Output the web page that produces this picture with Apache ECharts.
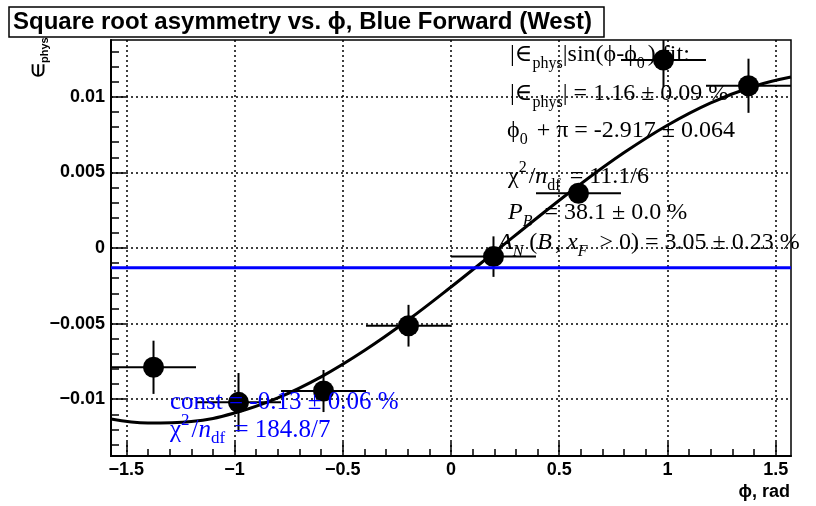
<!DOCTYPE html>
<html><head><meta charset="utf-8">
<script src="https://cdn.jsdelivr.net/npm/echarts@6/dist/echarts.min.js"></script>
<style>html,body{margin:0;padding:0;background:#fff}#c{width:816px;height:506px}</style>
</head><body><div id="c"></div><script>
// ---- data ----
const phiBins = [-1.3744, -0.9817, -0.5890, -0.1963, 0.1963, 0.5890, 0.9817, 1.3744];
const phiHalfWidth = [0.1963, 0.1963, 0.1963, 0.1963, 0.1963, 0.1963, 0.1963, 0.1963];
const asym = [-0.00789, -0.01021, -0.00946, -0.00514, -0.00057, 0.00362, 0.01243, 0.01073];
const asymErr = [0.00176, 0.00194, 0.00139, 0.00138, 0.00134, 0.0005, 0.00179, 0.00179];
// fit curve
const fitPhi = [-1.5708, -1.4, -1.2, -1.0, -0.8, -0.6, -0.4, -0.2, 0, 0.2, 0.4, 0.6, 0.8, 1.0, 1.2, 1.4, 1.5708];
const fitVal = [-0.01131, -0.01158, -0.01148, -0.01091, -0.00991, -0.00852, -0.00678, -0.00478, -0.00258, -0.00029, 0.00202, 0.00425, 0.00631, 0.00812, 0.00960, 0.01070, 0.01131];
// constant fit
const constPhi = [-1.5708, 1.5708];
const constVal = [-0.0013, -0.0013];
// axes
const xMin = -1.5708, xMax = 1.5708;
const yMin = -0.013757, yMax = 0.013757;
const xMajorTicks = [-1.5, -1, -0.5, 0, 0.5, 1, 1.5];
const xMinorTicks = [-1.4, -1.3, -1.2, -1.1, -0.9, -0.8, -0.7, -0.6, -0.4, -0.3, -0.2, -0.1, 0.1, 0.2, 0.3, 0.4, 0.6, 0.7, 0.8, 0.9, 1.1, 1.2, 1.3, 1.4];
const yMajorTicks = [-0.01, -0.005, 0, 0.005, 0.01];
const yMinorTicks = [-0.013, -0.012, -0.011, -0.009, -0.008, -0.007, -0.006, -0.004, -0.003, -0.002, -0.001, 0.001, 0.002, 0.003, 0.004, 0.006, 0.007, 0.008, 0.009, 0.011, 0.012, 0.013];
// texts
const titleText = 'Square root asymmetry vs. \u03D5, Blue Forward (West)';
const xTitle = '\u03D5, rad';

const chart = echarts.init(document.getElementById('c'), null, {renderer: 'canvas'});
const fmt = v => (v < 0 ? '\u2212' + String(Math.abs(v)) : String(v));
const sans = "'Liberation Sans', Arial, sans-serif";
const serif = "'Liberation Serif', 'DejaVu Serif', serif";

const points = phiBins.map((p, i) => [p, asym[i], phiHalfWidth[i], asymErr[i]]);
const fitData = fitPhi.map((p, i) => [p, fitVal[i]]);
const constData = constPhi.map((p, i) => [p, constVal[i]]);

const richSerif = (color, fs) => {
  const ss = Math.round(fs * 0.67), lh = fs + 10;
  return {
    sub: {fontSize: ss, lineHeight: ss, verticalAlign: 'bottom', fontFamily: serif, fill: color, padding: [0, 3, 0, 0]},
    subn: {fontSize: ss, lineHeight: ss, verticalAlign: 'bottom', fontFamily: serif, fill: color},
    sup: {fontSize: ss, lineHeight: ss, verticalAlign: 'top', fontFamily: serif, fill: color, padding: [0, 2, 0, 0]},
    it: {fontSize: fs, lineHeight: lh, fontStyle: 'italic', fontFamily: serif, fill: color},
    itp: {fontSize: fs, lineHeight: lh, fontStyle: 'italic', fontFamily: serif, fill: color, padding: [0, 3, 0, 0]},
    subit: {fontSize: ss, lineHeight: ss, verticalAlign: 'bottom', fontStyle: 'italic', fontFamily: serif, fill: color, padding: [0, 6, 0, 0]}
  };
};
function serifText(x, y, text, color, fs) {
  return {type: 'text', x: x, y: y, z: 100,
    style: {text: text, fill: color, fontFamily: serif, fontSize: fs, lineHeight: fs + 10,
      verticalAlign: 'middle', align: 'left', rich: richSerif(color, fs)}};
}

const statLines = [
  [510, 55, '|\u2208{subn|phys}|sin(\u03D5-\u03D5{sub|0}) fit:'],
  [510, 94, '|\u2208{subn|phys}| = 1.16 \u00B1 0.09 %'],
  [507, 131, '\u03D5{sub|0} + \u03C0 = -2.917 \u00B1 0.064'],
  [508, 177, '\u03C7{sup|2}/{it|n}{sub|df} = 11.1/6'],
  [508, 213, '{it|P}{subit|B} = 38.1 \u00B1 0.0 %'],
  [498, 243, '{it|A}{subit|N}({itp|B}, {it|x}{subit|F} > 0) = 3.05 \u00B1 0.23 %']
];
const blueLines = [
  [170, 402, 'const = -0.13 \u00B1 0.06 %'],
  [170, 430, '\u03C7{sup|2}/{it|n}{sub|df} = 184.8/7']
];

const graphics = [
  {type: 'rect', shape: {x: 9, y: 7, width: 595, height: 30}, z: 90,
    style: {fill: '#fff', stroke: '#000', lineWidth: 1.5}},
  {type: 'text', x: 13, y: 22, z: 91,
    style: {text: titleText, fontFamily: sans, fontWeight: 'bold', fontSize: 24, fill: '#000', verticalAlign: 'middle', align: 'left'}},
  {type: 'text', x: 39, y: 78, rotation: Math.PI / 2, z: 91,
    style: {text: '\u2208{s|phys}', fontFamily: sans, fontWeight: 'bold', fontSize: 17, lineHeight: 22, fill: '#000', verticalAlign: 'middle', align: 'left',
      rich: {s: {fontFamily: sans, fontWeight: 'bold', fontSize: 11, lineHeight: 11, verticalAlign: 'bottom', fill: '#000'}}}},
  {type: 'text', x: 790, y: 492, z: 91,
    style: {text: xTitle, fontFamily: sans, fontWeight: 'bold', fontSize: 18, fill: '#000', verticalAlign: 'middle', align: 'right'}}
];
statLines.forEach(l => graphics.push(serifText(l[0], l[1], l[2], '#000', 24)));
blueLines.forEach(l => graphics.push(serifText(l[0], l[1], l[2], '#0000ff', 25)));

const labelStyle = {fontFamily: sans, fontWeight: 'bold', fontSize: 18, color: '#000'};

const option = {
  animation: false,
  backgroundColor: '#fff',
  grid: {left: 111, right: 25, top: 40, bottom: 50, containLabel: false, outerBoundsMode: 'none',
    show: true, borderColor: '#000', borderWidth: 1.5, backgroundColor: 'transparent'},
  xAxis: [
    {type: 'value', min: xMin, max: xMax, position: 'bottom',
      axisLine: {show: true, onZero: false, lineStyle: {color: '#000', width: 2}},
      axisTick: {show: true, inside: true, length: 14, lineStyle: {color: '#000', width: 1.5}, customValues: xMajorTicks},
      axisLabel: Object.assign({margin: 5, formatter: fmt, customValues: xMajorTicks}, labelStyle),
      splitLine: {show: true, lineStyle: {color: '#000', width: 1.5, type: [2, 3]}},
      minorTick: {show: false}},
    {type: 'value', min: xMin, max: xMax, position: 'bottom',
      axisLine: {show: false, onZero: false},
      axisTick: {show: true, inside: true, length: 7, lineStyle: {color: '#000', width: 1.5}, customValues: xMinorTicks},
      axisLabel: {show: false},
      splitLine: {show: false}}
  ],
  yAxis: [
    {type: 'value', min: yMin, max: yMax, position: 'left',
      axisLine: {show: true, onZero: false, lineStyle: {color: '#000', width: 2}},
      axisTick: {show: true, inside: true, length: 15, lineStyle: {color: '#000', width: 1.5}, customValues: yMajorTicks},
      axisLabel: Object.assign({margin: 6, formatter: fmt, customValues: yMajorTicks}, labelStyle),
      splitLine: {show: true, lineStyle: {color: '#000', width: 1.5, type: [2, 3]}}},
    {type: 'value', min: yMin, max: yMax, position: 'left',
      axisLine: {show: false, onZero: false},
      axisTick: {show: true, inside: true, length: 8, lineStyle: {color: '#000', width: 1.5}, customValues: yMinorTicks},
      axisLabel: {show: false},
      splitLine: {show: false}}
  ],
  graphic: graphics,
  series: [
    {type: 'custom', xAxisIndex: 0, yAxisIndex: 0, data: points, encode: {x: 0, y: 1}, z: 3,
      renderItem: function (params, api) {
        const x = api.value(0), y = api.value(1), ex = api.value(2), ey = api.value(3);
        const cs = params.coordSys;
        const clampX = v => Math.max(cs.x, Math.min(cs.x + cs.width, v));
        const clampY = v => Math.max(cs.y, Math.min(cs.y + cs.height, v));
        const l = api.coord([x - ex, y]), r = api.coord([x + ex, y]);
        const t = api.coord([x, y + ey]), b = api.coord([x, y - ey]);
        return {type: 'group', children: [
          {type: 'line', shape: {x1: clampX(l[0]), y1: l[1], x2: clampX(r[0]), y2: r[1]}, style: {stroke: '#000', lineWidth: 2}},
          {type: 'line', shape: {x1: t[0], y1: clampY(t[1]), x2: b[0], y2: clampY(b[1])}, style: {stroke: '#000', lineWidth: 2}}
        ]};
      }},
    {type: 'scatter', xAxisIndex: 0, yAxisIndex: 0, data: points.map(p => [p[0], p[1]]), symbol: 'circle', symbolSize: 21,
      itemStyle: {color: '#000', opacity: 1}, z: 4},
    {type: 'line', xAxisIndex: 0, yAxisIndex: 0, data: fitData, smooth: 0.4, showSymbol: false, symbol: 'none',
      lineStyle: {color: '#000', width: 3}, z: 5},
    {type: 'line', xAxisIndex: 0, yAxisIndex: 0, data: constData, showSymbol: false, symbol: 'none',
      lineStyle: {color: '#0000ff', width: 3}, z: 6}
  ]
};
chart.setOption(option);
</script></body></html>
